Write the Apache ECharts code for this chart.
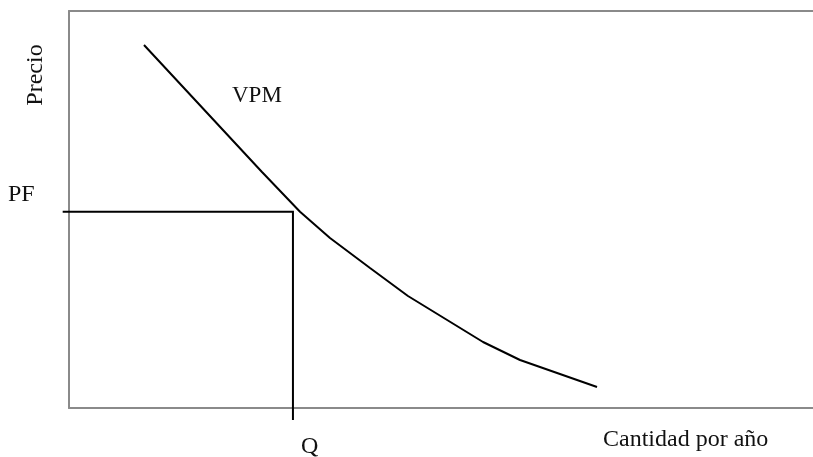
<!DOCTYPE html>
<html>
<head>
<meta charset="utf-8">
<script src="https://cdn.jsdelivr.net/npm/echarts@6/dist/echarts.min.js"></script>
<style>html,body{margin:0;padding:0;background:#fff}#c{width:813px;height:457px}</style>
</head>
<body>
<div id="c"></div>
<script>
// Demand curve VPM (value of marginal product): quantity vs price
var vpmQuantity = [10.08, 25.94, 31.05, 35.08, 40.46, 45.56, 55.65, 60.62, 70.97];
var vpmPrice    = [91.44, 59.45, 49.45, 42.82, 35.26, 28.21, 16.62, 12.09, 5.29];
// Factor price PF and quantity Q
var factorPrice = 49.45;
var quantityQ = 30.1;
var guideStartX = -0.85;
var guideEndY = -3.0;
var labels = { yName: 'Precio', xName: 'Cantidad por año', curve: 'VPM', price: 'PF', qty: 'Q' };

var chart = echarts.init(document.getElementById('c'), null, { renderer: 'canvas' });
var font = 'Liberation Serif';
var axisGray = '#8a8a8a';

var curveData = vpmQuantity.map(function (q, i) { return [q, vpmPrice[i]]; });
var guideData = [[guideStartX, factorPrice], [quantityQ, factorPrice], [quantityQ, guideEndY]];

chart.setOption({
  animation: false,
  grid: { left: 69, top: 11, right: 0, bottom: 49 },
  xAxis: [
    { type: 'value', min: 0, max: 100, position: 'bottom', z: 0,
      axisLine: { show: true, lineStyle: { color: axisGray, width: 2 } },
      axisTick: { show: false }, axisLabel: { show: false }, splitLine: { show: false } },
    { type: 'value', min: 0, max: 100, position: 'top', z: 0,
      axisLine: { show: true, lineStyle: { color: axisGray, width: 2 } },
      axisTick: { show: false }, axisLabel: { show: false }, splitLine: { show: false } }
  ],
  yAxis: { type: 'value', min: 0, max: 100, z: 0,
    axisLine: { show: true, lineStyle: { color: axisGray, width: 2 } },
    axisTick: { show: false }, axisLabel: { show: false }, splitLine: { show: false } },
  series: [
    { type: 'line', data: curveData, symbol: 'none', smooth: false, z: 5,
      lineStyle: { color: '#000', width: 2 } },
    { type: 'custom', data: [0], clip: false, z: 5,
      renderItem: function (params, api) {
        var pts = guideData.map(function (d) { return api.coord(d); });
        return { type: 'polyline', shape: { points: pts },
          style: { stroke: '#000', lineWidth: 2, fill: null } };
      } }
  ],
  graphic: [
    { type: 'text', x: 36, y: 75, rotation: Math.PI / 2,
      style: { text: labels.yName, font: '24px "' + font + '"', fill: '#111', align: 'center', verticalAlign: 'middle' } },
    { type: 'text', x: 8, y: 195,
      style: { text: labels.price, font: '24px "' + font + '"', fill: '#111', align: 'left', verticalAlign: 'middle' } },
    { type: 'text', x: 232, y: 96,
      style: { text: labels.curve, font: '23px "' + font + '"', fill: '#111', align: 'left', verticalAlign: 'middle' } },
    { type: 'text', x: 301, y: 447,
      style: { text: labels.qty, font: '24px "' + font + '"', fill: '#111', align: 'left', verticalAlign: 'middle' } },
    { type: 'text', x: 603, y: 440,
      style: { text: labels.xName, font: '24px "' + font + '"', fill: '#111', align: 'left', verticalAlign: 'middle' } }
  ]
});
</script>
</body>
</html>
